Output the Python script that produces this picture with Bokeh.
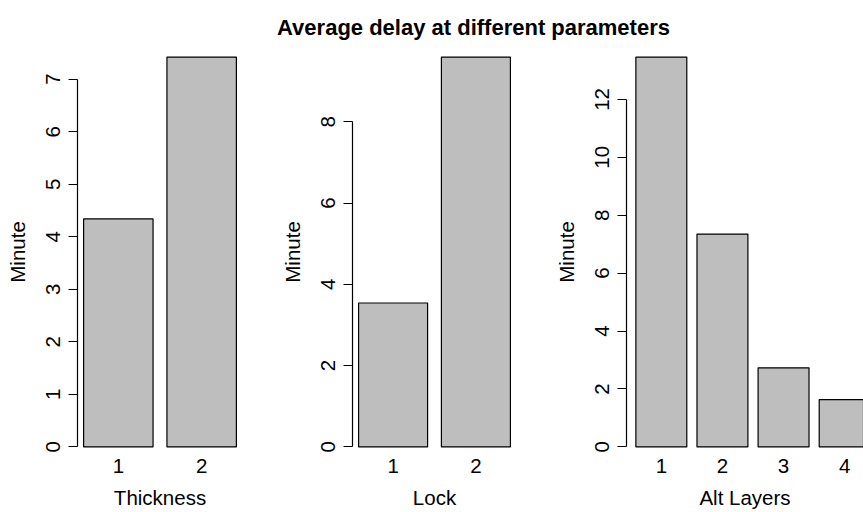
from bokeh.plotting import figure
from bokeh.models import Range1d, FixedTicker, Label
from bokeh.layouts import column, row
from bokeh.embed import file_html
from bokeh.resources import INLINE

# ---- data ----
title_text = "Average delay at different parameters"
y_label = "Minute"

thickness_names = ["1", "2"]
thickness_values = [4.34, 7.42]

lock_names = ["1", "2"]
lock_values = [3.54, 9.59]

alt_names = ["1", "2", "3", "4"]
alt_values = [13.46, 7.35, 2.73, 1.63]

x_labels = ["Thickness", "Lock", "Alt Layers"]
y_tick_steps = [1, 2, 2]

# ---- style ----
FONT = "Liberation Sans"
LBL = "20.5px"
BAR_W = 1 / 1.2
FILL = "#BEBEBE"
PANEL_H = 471


def panel(names, values, xlabel, step, fig_w, frame_w, full_frame_w=None):
    n = len(names)
    ext = 0.04 * (n - 1 + BAR_W)
    x0 = 1 - BAR_W / 2 - ext
    x1 = n + BAR_W / 2 + ext
    if full_frame_w:
        x1 = x0 + (x1 - x0) * frame_w / full_frame_w
    ymax = max(values)
    y0, y1 = -0.04 * ymax, 1.04 * ymax
    p = figure(width=fig_w, height=PANEL_H, output_backend="svg", toolbar_location=None,
               x_range=Range1d(x0, x1), y_range=Range1d(y0, y1),
               min_border_left=77, min_border_right=fig_w - 77 - frame_w,
               min_border_top=0, min_border_bottom=50)
    p.outline_line_color = None
    p.xgrid.visible = False
    p.ygrid.visible = False
    centers = list(range(1, n + 1))
    p.vbar(x=centers, top=values, bottom=0, width=BAR_W,
           fill_color=FILL, line_color="black", line_width=1.2)

    xa = p.xaxis[0]
    xa.ticker = FixedTicker(ticks=centers)
    xa.major_label_overrides = {c: nm for c, nm in zip(centers, names)}
    xa.axis_line_color = None
    xa.major_tick_line_color = None
    xa.minor_tick_line_color = None
    xa.major_tick_out = 0
    xa.major_label_standoff = -4
    xa.major_label_text_font = FONT
    xa.major_label_text_font_size = LBL
    xa.major_label_text_color = "black"
    xa.axis_label = xlabel
    xa.axis_label_text_font = FONT
    xa.axis_label_text_font_size = LBL
    xa.axis_label_text_font_style = "normal"
    xa.axis_label_text_color = "black"
    xa.axis_label_standoff = 10

    last = int(ymax // step) * step
    ticks = list(range(0, last + 1, step))
    ya = p.yaxis[0]
    ya.ticker = FixedTicker(ticks=ticks)
    ya.bounds = (0, last)
    ya.axis_line_color = "black"
    ya.axis_line_width = 1.2
    ya.major_tick_line_color = "black"
    ya.major_tick_line_width = 1.2
    ya.major_tick_out = 9
    ya.major_tick_in = 0
    ya.minor_tick_line_color = None
    ya.major_label_orientation = "vertical"
    ya.major_label_standoff = 8
    ya.major_label_text_font = FONT
    ya.major_label_text_font_size = LBL
    ya.major_label_text_color = "black"
    ya.axis_label = y_label
    ya.axis_label_text_font = FONT
    ya.axis_label_text_font_size = LBL
    ya.axis_label_text_font_style = "normal"
    ya.axis_label_text_color = "black"
    ya.axis_label_standoff = 15
    return p


p1 = panel(thickness_names, thickness_values, x_labels[0], y_tick_steps[0], 275, 165)
p2 = panel(lock_names, lock_values, x_labels[1], y_tick_steps[1], 274, 164)
p3 = panel(alt_names, alt_values, x_labels[2], y_tick_steps[2], 314, 237, full_frame_w=253)

pt = figure(width=863, height=41, output_backend="svg", toolbar_location=None,
            x_range=Range1d(0, 863), y_range=Range1d(0, 41), min_border=0,
            x_axis_location=None, y_axis_location=None)
pt.outline_line_color = None
pt.xgrid.visible = False
pt.ygrid.visible = False
pt.add_layout(Label(x=473, y=14.3, text=title_text, text_align="center",
                    text_baseline="alphabetic", text_font=FONT, text_font_size="22px",
                    text_font_style="bold", text_color="black"))

layout = column(pt, row(p1, p2, p3, spacing=0), spacing=0)
open("out.html", "w").write(file_html(layout, INLINE))
